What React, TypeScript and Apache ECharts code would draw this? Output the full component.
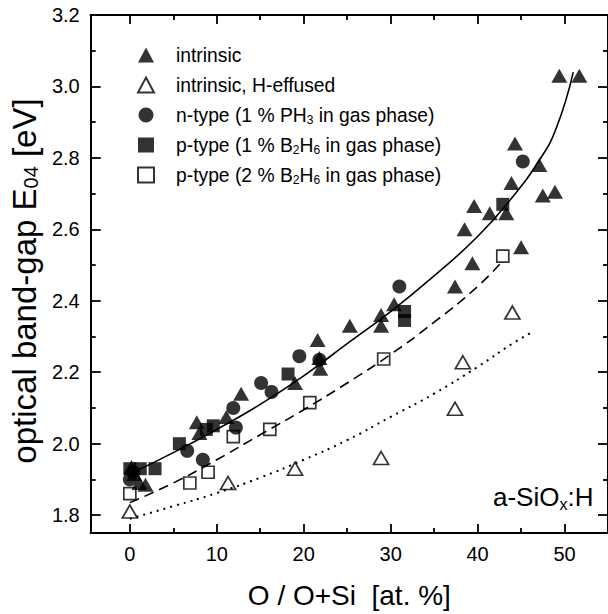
import React, { useEffect, useRef } from "react";
import * as echarts from "echarts";

const FONT = "'Liberation Sans', Arial, Helvetica, sans-serif";

// axis ranges and ticks
const X_MIN = -4.5;
const X_MAX = 55;
const Y_MIN = 1.75;
const Y_MAX = 3.2;
const xMajorTicks = [0, 10, 20, 30, 40, 50];
const xMinorTicks = [5, 15, 25, 35, 45];
const yMajorTicks = [1.8, 2.0, 2.2, 2.4, 2.6, 2.8, 3.0, 3.2];
const yMinorTicks = [1.9, 2.1, 2.3, 2.5, 2.7, 2.9, 3.1];

// legend
const seriesNames = [
  "intrinsic",
  "intrinsic, H-effused",
  "n-type (1 % PH3 in gas phase)",
  "p-type (1 % B2H6 in gas phase)",
  "p-type (2 % B2H6 in gas phase)",
];
const legendLabels = [
  "intrinsic",
  "intrinsic, H-effused",
  "n-type (1 % PH{sub|3} in gas phase)",
  "p-type (1 % B{sub|2}H{sub|6} in gas phase)",
  "p-type (2 % B{sub|2}H{sub|6} in gas phase)",
];

// data [O/(O+Si) at.%, E04 eV]
const intrinsic = [
  [0.2, 1.935], [0.5, 1.915], [1.1, 1.89], [1.8, 1.885], [7.7, 2.06], [8.0, 2.03],
  [11.1, 2.075], [12.8, 2.14], [19.0, 2.17], [21.6, 2.29], [21.8, 2.24], [21.9, 2.21],
  [25.3, 2.33], [28.9, 2.36], [28.9, 2.33], [30.4, 2.39], [37.4, 2.44], [38.5, 2.6],
  [39.4, 2.505], [39.6, 2.665], [41.4, 2.645], [43.3, 2.645], [43.9, 2.73], [44.3, 2.84],
  [45.0, 2.55], [47.1, 2.78], [47.5, 2.695], [48.9, 2.705], [49.4, 3.03], [51.7, 3.03],
];
const hEffused = [
  [0.0, 1.81], [11.3, 1.89], [19.0, 1.93], [28.9, 1.96], [37.4, 2.098], [38.3, 2.228], [44.0, 2.367],
];
const nType = [
  [0.0, 1.9], [0.4, 1.92], [6.6, 1.98], [8.4, 1.955], [11.9, 2.1], [12.2, 2.045], [15.1, 2.17],
  [16.3, 2.145], [19.5, 2.245], [21.8, 2.235], [31.0, 2.44], [45.2, 2.79],
];
const pType1 = [
  [0.0, 1.93], [1.2, 1.93], [2.9, 1.93], [5.7, 2.0], [8.8, 2.04], [9.6, 2.05], [18.2, 2.195],
  [31.6, 2.37], [31.6, 2.345], [42.9, 2.67],
];
const pType2 = [
  [0.0, 1.86], [6.9, 1.89], [9.0, 1.92], [11.9, 2.02], [16.1, 2.04], [20.7, 2.115], [29.2, 2.237], [42.9, 2.525],
];

// guide curves
const solidFitX = [0, 5, 10, 15, 20, 25, 30, 35, 40, 44, 47, 49, 51];
const solidFitY = [1.915, 1.975, 2.04, 2.11, 2.19, 2.28, 2.37, 2.47, 2.58, 2.69, 2.79, 2.88, 3.04];
const dashedFitX = [0, 5, 10, 15, 20, 25, 30, 35, 40, 43];
const dashedFitY = [1.835, 1.89, 1.955, 2.025, 2.095, 2.17, 2.25, 2.34, 2.44, 2.515];
const dottedFitX = [0, 5, 10, 15, 20, 25, 30, 35, 40, 44, 46.5];
const dottedFitY = [1.79, 1.825, 1.862, 1.905, 1.955, 2.01, 2.075, 2.14, 2.215, 2.28, 2.315];

const zip = (xs: number[], ys: number[]) => xs.map((x, i) => [x, ys[i]]);

const BLACK = "#000";
const HOLLOW = "rgba(0,0,0,0)";

function axisCommon(min: number, max: number) {
  return {
    type: "value" as const,
    min,
    max,
    splitLine: { show: false },
    axisLine: { show: true, onZero: false, lineStyle: { color: BLACK, width: 2 } },
  };
}

function xAxis(position: string, ticks: number[], length: number, labels: boolean, extra: any = {}) {
  return {
    ...axisCommon(X_MIN, X_MAX),
    position,
    axisTick: { show: true, inside: true, length, customValues: ticks, lineStyle: { color: BLACK, width: 1.8 } },
    axisLabel: labels
      ? { show: true, customValues: xMajorTicks, margin: 11, fontSize: 20, color: BLACK, fontFamily: FONT }
      : { show: false },
    ...extra,
  };
}

function yAxis(position: string, ticks: number[], length: number, labels: boolean, extra: any = {}) {
  return {
    ...axisCommon(Y_MIN, Y_MAX),
    position,
    axisTick: { show: true, inside: true, length, customValues: ticks, lineStyle: { color: BLACK, width: 1.8 } },
    axisLabel: labels
      ? {
          show: true,
          customValues: yMajorTicks,
          margin: 11,
          fontSize: 20,
          color: BLACK,
          fontFamily: FONT,
          formatter: (v: number) => v.toFixed(1),
        }
      : { show: false },
    ...extra,
  };
}

function scatter(name: string, data: number[][], symbol: string, size: any, filled: boolean) {
  return {
    type: "scatter",
    name,
    data,
    symbol,
    symbolSize: size,
    xAxisIndex: 0,
    yAxisIndex: 0,
    z: 3,
    itemStyle: filled
      ? { color: BLACK }
      : { color: HOLLOW, borderColor: BLACK, borderWidth: 1.7 },
  };
}

function curve(data: number[][], type: any, width: number) {
  return {
    type: "line",
    data,
    smooth: true,
    symbol: "none",
    showSymbol: false,
    silent: true,
    z: 2,
    xAxisIndex: 0,
    yAxisIndex: 0,
    lineStyle: { color: BLACK, width, type },
  };
}

export default function App() {
  const ref = useRef<HTMLDivElement>(null);
  useEffect(() => {
    if (!ref.current) return;
    const chart = echarts.init(ref.current, null, { renderer: "svg" });
    const option: any = {
      animation: false,
      backgroundColor: "#fff",
      grid: { left: 90, top: 15, right: -1, bottom: 76, containLabel: false },
      xAxis: [
        xAxis("bottom", xMajorTicks, 9, true, {
          name: "O / O+Si  [at. %]",
          nameLocation: "middle",
          nameGap: 48,
          nameTextStyle: { fontSize: 28, color: BLACK, fontFamily: FONT },
        }),
        xAxis("bottom", xMinorTicks, 5, false),
        xAxis("top", xMajorTicks, 9, false),
        xAxis("top", xMinorTicks, 5, false),
      ],
      yAxis: [
        yAxis("left", yMajorTicks, 10, true, {
          name: "optical band-gap E{sub|04} [eV]",
          nameLocation: "middle",
          nameGap: 45,
          nameTextStyle: {
            fontSize: 33,
            color: BLACK,
            fontFamily: FONT,
            padding: [0, 14, 0, 0],
            rich: { sub: { fontSize: 20, color: BLACK, fontFamily: FONT, verticalAlign: "bottom" } },
          },
        }),
        yAxis("left", yMinorTicks, 5, false),
        yAxis("right", yMajorTicks, 10, false),
        yAxis("right", yMinorTicks, 5, false),
      ],
      legend: {
        orient: "vertical",
        left: 132,
        top: 39,
        itemWidth: 16,
        itemHeight: 15,
        itemGap: 8,
        selectedMode: false,
        data: seriesNames,
        formatter: (name: string) => legendLabels[seriesNames.indexOf(name)],
        textStyle: {
          fontSize: 19.3,
          lineHeight: 22,
          color: BLACK,
          fontFamily: FONT,
          padding: [0, 0, 0, 17],
          rich: {
            sub: { fontSize: 12, lineHeight: 12, color: BLACK, fontFamily: FONT, verticalAlign: "bottom" },
          },
        },
      },
      graphic: [
        {
          type: "text",
          left: 493,
          top: 482,
          style: {
            text: "a-SiO{sub|x}:H",
            fontSize: 26,
            lineHeight: 30,
            fill: BLACK,
            fontFamily: FONT,
            rich: { sub: { fontSize: 16, lineHeight: 16, fill: BLACK, fontFamily: FONT, verticalAlign: "bottom" } },
          },
        },
      ],
      series: [
        curve(zip(solidFitX, solidFitY), "solid", 1.6),
        curve(zip(dashedFitX, dashedFitY), [10, 6], 1.6),
        curve(zip(dottedFitX, dottedFitY), [2, 5], 2),
        scatter(seriesNames[0], intrinsic, "triangle", [16, 14], true),
        scatter(seriesNames[1], hEffused, "triangle", [15, 13], false),
        scatter(seriesNames[2], nType, "circle", 14, true),
        scatter(seriesNames[3], pType1, "rect", 13, true),
        scatter(seriesNames[4], pType2, "rect", 12, false),
      ],
    };
    chart.setOption(option);
    return () => chart.dispose();
  }, []);
  return (
    <div
      ref={ref}
      style={{ position: "fixed", left: 0, top: 0, width: 608, height: 614, background: "#fff" }}
    />
  );
}
